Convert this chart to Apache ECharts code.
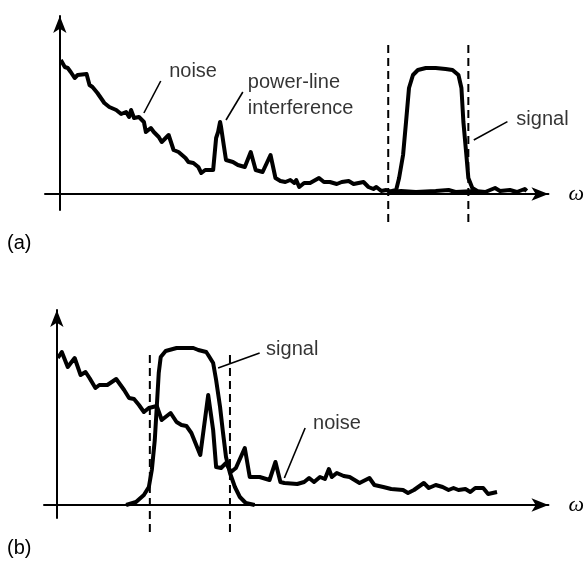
<!DOCTYPE html>
<html><head><meta charset="utf-8">
<script src="https://cdn.jsdelivr.net/npm/echarts@6/dist/echarts.min.js"></script>
<style>html,body{margin:0;padding:0;background:#fff}#c{width:585px;height:562px}</style>
</head><body><div id="c"></div>
<script>
// ---------- Panel (a) ----------
const noiseA = [[0.2,67],[1,63.5],[1.6,63],[2.2,61],[3,58],[3.6,59.5],[5.4,60],[6,54.5],[6.6,53.5],[7.6,50.5],[9,45.5],[10,43.5],[11.4,42],[12.4,40],[13.4,41],[14,38.5],[14.4,42],[15,38],[16,38.5],[17,36],[17.4,31],[18.4,33],[19,31],[20,28.5],[20.6,26],[22,29.5],[23,22],[24,21],[24.4,22],[25.4,18],[26,16],[27,15.5],[28,13.5],[28.6,10.5],[29.4,12],[31,12],[31.6,28],[32,31],[32.4,36],[32.6,33.5],[33.2,23.5],[33.6,17],[35,16],[36,14.5],[37.4,13.5],[38.6,21],[39.6,12],[41,11],[42.6,19.5],[43.6,8],[44.6,6.5],[45.6,6],[46.6,7],[47.4,5.5],[47.8,7],[48.4,3.5],[49.4,5.5],[50.6,5.5],[52.4,8],[53.4,6],[54.6,6],[56,5],[57,6],[58.4,6.5],[59.4,5],[60.4,5.5],[61.4,6],[62.4,3.5],[63.4,2.5],[64,3.5],[65,1.5],[66,2],[67,1],[69,1.5],[72,1],[76,1.5],[78.6,2],[80,1],[84,1.5],[86,1],[88,3],[89,1.5],[91,2],[92.4,1],[94,2.5],[94.4,1.5]];
const signalA = [[66.4,1],[68,2],[68.6,8],[69.4,19.5],[70,36],[70.6,53],[71.4,59.5],[72.4,62],[74,63],[76,63],[78,62.5],[79.4,62],[80.6,59.5],[81.2,53],[81.6,36],[82.2,19.5],[82.6,8],[83.4,3],[84.4,1.5]];
const bandA = [66.4, 82.6];
const bandSpanA = [-14, 76];
const noteTextA = ['noise', 'power-line\ninterference', 'signal'];
const notePosA = [[22.1,61.4],[38,49.4],[92.3,37.2]];
const leaderA = [[[20.4,56.5],[17,40.5]], [[37,51],[33.6,37]], [[90.5,36.2],[83.7,27]]];

// ---------- Panel (b) ----------
const noiseB = [[0.2,73.5],[1,76.5],[2.2,69],[3.6,73.5],[4.8,65],[5.8,66.5],[6.6,63.5],[7.8,58.5],[8.6,60],[10.2,60],[12,63],[13.6,57.5],[14.6,53.5],[15.6,53],[16.6,50],[17.6,46.5],[18.6,48.5],[20.2,49.5],[21.2,42.5],[23,46],[24.2,41.5],[25.2,40],[26.2,39.5],[27.2,36],[29,25],[30.6,55],[31.6,37.5],[32.2,19],[33.2,18.5],[34.2,21],[35.2,16.5],[36.2,18.5],[38,28.5],[39,14],[41,14],[43,12.5],[44.2,21.5],[45.2,11.5],[46,11],[48.6,10.5],[50,11.5],[51,13.5],[52,11.5],[53.2,14],[54.2,13],[55,18],[55.6,14],[56.6,16],[58,14.5],[59.2,14],[61.2,11],[63.2,13.5],[64.2,10],[66,9],[67.6,8],[70,7.5],[71,6],[72.2,7.5],[74.2,11],[75.2,8.5],[76.6,10],[78,9],[79.2,7.5],[80.2,8.5],[81.2,7.5],[82.6,8],[83.6,6.5],[84.6,8.5],[86.2,8.5],[87.2,5.5],[89,6.5]];
const signalB = [[14,0],[16,1.5],[17.6,5],[18.6,9],[19.2,17.5],[19.8,32.5],[20.2,49],[20.6,66],[21,74],[22,77],[24.2,78.5],[27.6,78.5],[28.6,77.5],[30.2,76.5],[30.6,75],[31.6,71],[32.2,62.5],[33,49],[33.6,36],[34.2,24],[35,16],[36,9],[37,4],[38.2,1],[40,0]];
const bandB = [18.8, 35];
const bandSpanB = [-13.5, 77.5];
const noteTextB = ['signal', 'noise'];
const notePosB = [[42.3,77.7],[51.8,40.7]];
const leaderB = [[[41,76],[32.6,68.5]], [[50.2,38.5],[46,13.5]]];

const axisName = 'ω';
const panelLabels = ['(a)', '(b)'];

const FONT = 'Liberation Sans, Arial, Helvetica, sans-serif';
const chart = echarts.init(document.getElementById('c'), null, {renderer: 'canvas'});

function axisX(gi, min, max) {
  return {
    type: 'value', gridIndex: gi, min: min, max: max,
    axisLine: {onZero: true, lineStyle: {color: '#000', width: 2}, symbol: ['none', 'arrow'], symbolSize: [10, 17]},
    axisTick: {show: false}, axisLabel: {show: false}, splitLine: {show: false},
    name: axisName, nameLocation: 'end', nameGap: 20,
    nameTextStyle: {fontFamily: 'Liberation Serif, Times New Roman, serif', fontStyle: 'italic', fontSize: 22, color: '#000', align: 'left', verticalAlign: 'middle'}
  };
}
function axisY(gi, min, max) {
  return {
    type: 'value', gridIndex: gi, min: min, max: max,
    axisLine: {onZero: true, lineStyle: {color: '#000', width: 2}, symbol: ['none', 'arrow'], symbolSize: [10, 17]},
    axisTick: {show: false}, axisLabel: {show: false}, splitLine: {show: false}
  };
}
function curve(data, gi) {
  return {type: 'line', xAxisIndex: gi, yAxisIndex: gi, data: data, symbol: 'none', silent: true,
    lineStyle: {color: '#000', width: 4, join: 'round'}, clip: false, z: 3};
}
function dashed(x, span, gi) {
  return {type: 'line', xAxisIndex: gi, yAxisIndex: gi, data: [[x, span[0]], [x, span[1]]], symbol: 'none', silent: true,
    lineStyle: {color: '#000', width: 2, type: [8, 5]}, clip: false, z: 2};
}
function leader(seg, gi) {
  return {type: 'line', xAxisIndex: gi, yAxisIndex: gi, data: seg, symbol: 'none', silent: true,
    lineStyle: {color: '#000', width: 1.6}, clip: false, z: 4};
}
function notes(texts, pos, gi) {
  return {type: 'scatter', xAxisIndex: gi, yAxisIndex: gi, symbolSize: 0, silent: true, clip: false,
    data: pos.map((p, i) => ({value: p, name: texts[i]})),
    label: {show: true, position: 'right', distance: 0, formatter: '{b}', color: '#000',
      fontFamily: FONT, fontSize: 20, lineHeight: 26, align: 'left', verticalAlign: 'middle'}};
}

const series = [
  curve(noiseA, 0), curve(signalA, 0),
  dashed(bandA[0], bandSpanA, 0), dashed(bandA[1], bandSpanA, 0),
  ...leaderA.map(s => leader(s, 0)),
  notes(noteTextA, notePosA, 0),
  curve(noiseB, 1), curve(signalB, 1),
  dashed(bandB[0], bandSpanB, 1), dashed(bandB[1], bandSpanB, 1),
  ...leaderB.map(s => leader(s, 1)),
  notes(noteTextB, notePosB, 1)
];

chart.setOption({
  animation: false,
  backgroundColor: '#fff',
  grid: [
    {left: 45, right: 31, top: 16, bottom: 352},
    {left: 44, right: 31, top: 310, bottom: 44}
  ],
  xAxis: [axisX(0, -3, 98.8), axisX(1, -2.6, 99.4)],
  yAxis: [axisY(0, -8, 89), axisY(1, -6.5, 97.5)],
  graphic: [
    {type: 'text', left: 7, top: 233, style: {text: panelLabels[0], font: '20px ' + FONT, fill: '#000'}},
    {type: 'text', left: 7, top: 538, style: {text: panelLabels[1], font: '20px ' + FONT, fill: '#000'}}
  ],
  series: series
});
</script></body></html>
